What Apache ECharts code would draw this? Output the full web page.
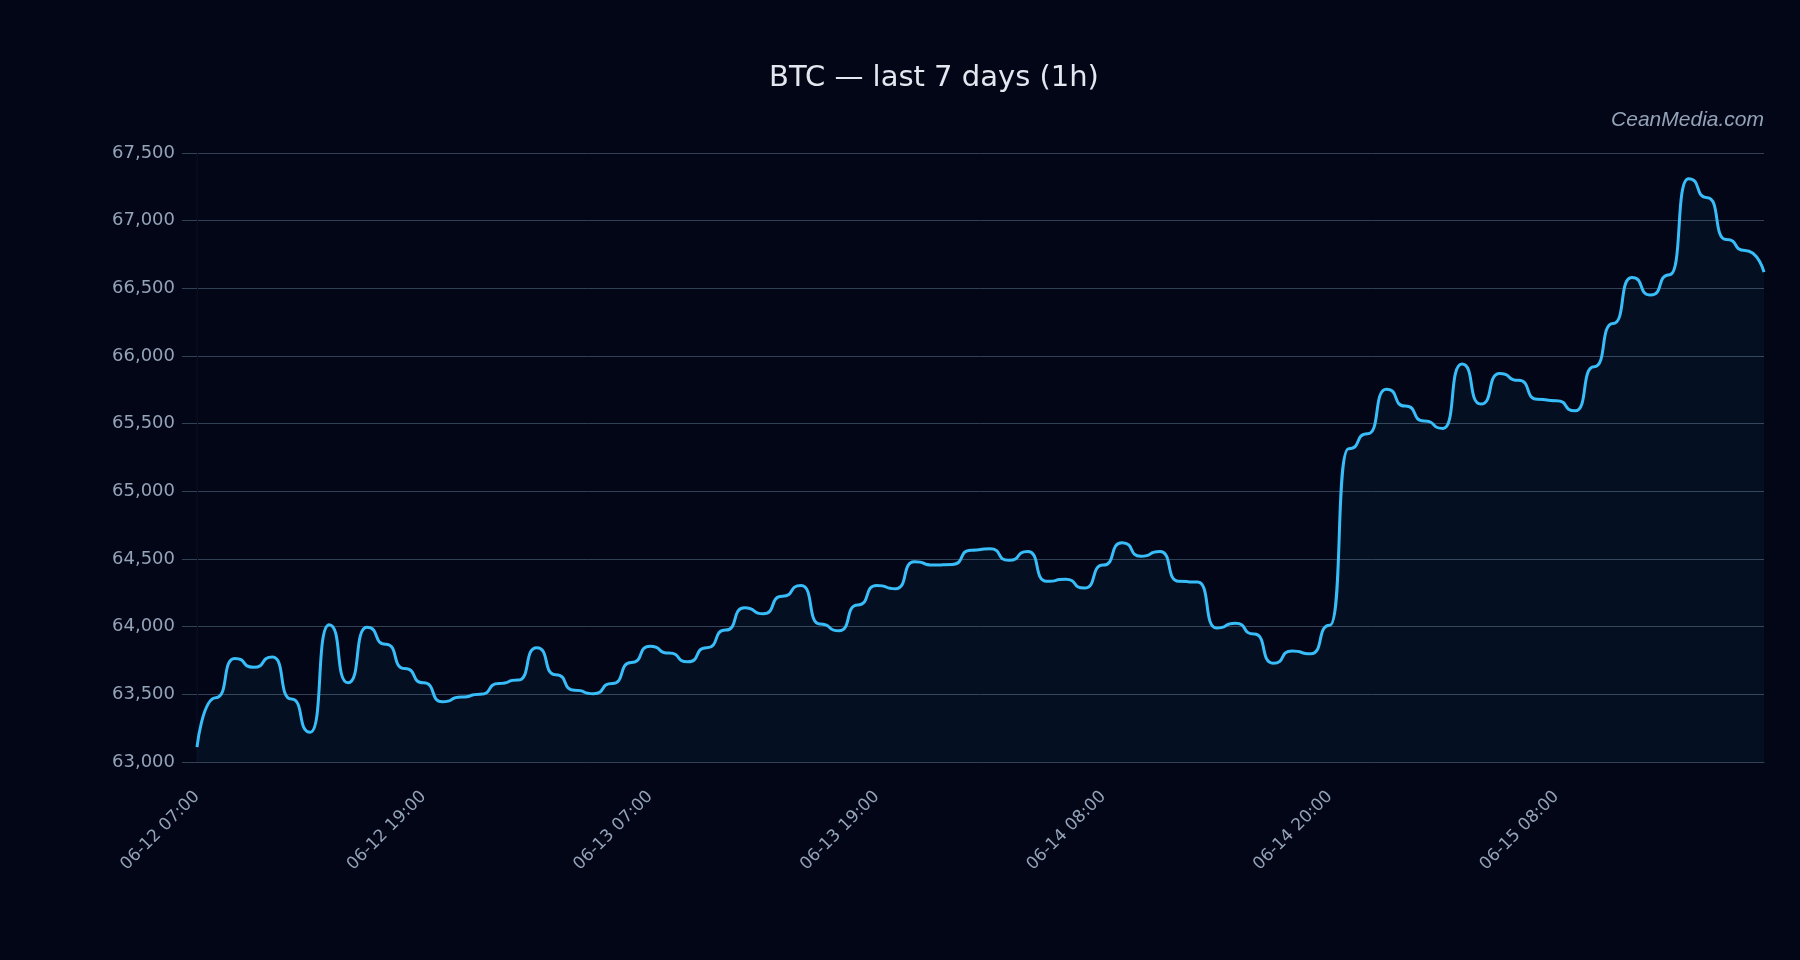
<!DOCTYPE html>
<html>
<head>
<meta charset="utf-8">
<title>BTC last 7 days</title>
<script src="https://cdn.jsdelivr.net/npm/echarts@6/dist/echarts.min.js"></script>
<style>
    html, body { margin: 0; padding: 0; background: #020617; }
    #main { width: 1800px; height: 960px; }
</style>
</head>
<body>
<div id="main"></div>
<script>
// hourly candles (one hour missing on 06-14)
const hours = [
    '06-12 07:00', '06-12 08:00', '06-12 09:00', '06-12 10:00', '06-12 11:00', '06-12 12:00',
    '06-12 13:00', '06-12 14:00', '06-12 15:00', '06-12 16:00', '06-12 17:00', '06-12 18:00',
    '06-12 19:00', '06-12 20:00', '06-12 21:00', '06-12 22:00', '06-12 23:00',
    '06-13 00:00', '06-13 01:00', '06-13 02:00', '06-13 03:00', '06-13 04:00', '06-13 05:00',
    '06-13 06:00', '06-13 07:00', '06-13 08:00', '06-13 09:00', '06-13 10:00', '06-13 11:00',
    '06-13 12:00', '06-13 13:00', '06-13 14:00', '06-13 15:00', '06-13 16:00', '06-13 17:00',
    '06-13 18:00', '06-13 19:00', '06-13 20:00', '06-13 21:00', '06-13 22:00', '06-13 23:00',
    '06-14 00:00', '06-14 01:00', '06-14 02:00', '06-14 04:00', '06-14 05:00', '06-14 06:00',
    '06-14 07:00', '06-14 08:00', '06-14 09:00', '06-14 10:00', '06-14 11:00', '06-14 12:00',
    '06-14 13:00', '06-14 14:00', '06-14 15:00', '06-14 16:00', '06-14 17:00', '06-14 18:00',
    '06-14 19:00', '06-14 20:00', '06-14 21:00', '06-14 22:00', '06-14 23:00',
    '06-15 00:00', '06-15 01:00', '06-15 02:00', '06-15 03:00', '06-15 04:00', '06-15 05:00',
    '06-15 06:00', '06-15 07:00', '06-15 08:00', '06-15 09:00', '06-15 10:00', '06-15 11:00',
    '06-15 12:00', '06-15 13:00', '06-15 14:00', '06-15 15:00', '06-15 16:00', '06-15 17:00',
    '06-15 18:00', '06-15 19:00'
];
const closePrice = [
    63110, 63475, 63765, 63700, 63775, 63465, 63220, 64015, 63585, 63995,
    63870, 63690, 63585, 63445, 63480, 63500, 63580, 63605, 63845, 63645,
    63530, 63505, 63580, 63735, 63855, 63805, 63740, 63845, 63975, 64140,
    64095, 64225, 64305, 64020, 63970, 64160, 64305, 64280, 64480, 64455,
    64460, 64565, 64575, 64490, 64555, 64335, 64350, 64285, 64455, 64620,
    64520, 64555, 64335, 64330, 63990, 64025, 63945, 63730, 63820, 63800,
    64010, 65315, 65425, 65755, 65630, 65520, 65465, 65940, 65645, 65870,
    65820, 65680, 65670, 65595, 65920, 66240, 66580, 66450, 66600, 67310,
    67170, 66860, 66780, 66620
];
const yMin = 63000;
const yMax = 67500;
const yStep = 500;

var myChart = echarts.init(document.getElementById('main'));
var option = {
    backgroundColor: '#020617',
    animation: false,
    title: {
        text: 'BTC — last 7 days (1h)',
        left: 764,
        top: 59,
        textStyle: {
            color: '#e2e8f0',
            fontSize: 29,
            fontWeight: 'normal',
            fontFamily: 'DejaVu Sans'
        }
    },
    graphic: [{
        type: 'text',
        right: 36,
        top: 110,
        style: {
            text: 'CeanMedia.com',
            fill: '#94a3b8',
            font: 'italic 21px "Liberation Sans"'
        }
    }],
    grid: {
        left: 197,
        right: 36,
        top: 153,
        bottom: 198
    },
    xAxis: {
        type: 'category',
        data: hours,
        boundaryGap: false,
        axisLine: { lineStyle: { color: '#334155', width: 1 } },
        axisTick: { show: false },
        axisLabel: {
            interval: 11,
            rotate: 45,
            margin: 32,
            color: '#94a3b8',
            fontSize: 17,
            fontFamily: 'DejaVu Sans'
        },
        splitLine: { show: false }
    },
    yAxis: {
        type: 'value',
        min: yMin,
        max: yMax,
        interval: yStep,
        axisLine: { show: true, lineStyle: { color: '#050b1d', width: 2 } },
        axisTick: { show: true, length: 15, lineStyle: { color: '#334155' } },
        axisLabel: {
            margin: 22,
            color: '#94a3b8',
            fontSize: 18,
            fontFamily: 'DejaVu Sans',
            formatter: function (v) {
                return v.toLocaleString('en-US');
            }
        },
        splitLine: { lineStyle: { color: '#334155', width: 1 } }
    },
    series: [{
        type: 'line',
        data: closePrice,
        smooth: 0.7,
        smoothMonotone: 'x',
        showSymbol: false,
        lineStyle: { color: '#38bdf8', width: 3 },
        itemStyle: { color: '#38bdf8' },
        areaStyle: { color: 'rgba(56, 189, 248, 0.07)' }
    }]
};
myChart.setOption(option);
</script>
</body>
</html>
